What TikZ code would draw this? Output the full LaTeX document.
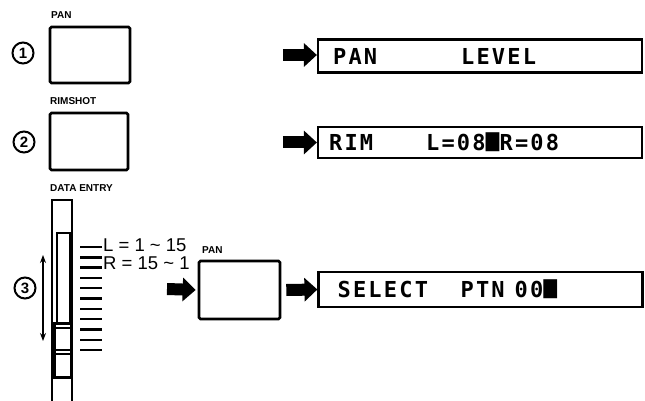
\documentclass[tikz,border=0pt]{standalone}
\usepackage{fontspec}
\usepackage{graphicx}
\setmainfont{Liberation Sans}
\newfontfamily\lcdfont[LetterSpace=10]{DejaVu Sans Mono}
\newcommand{\lcdblock}{\scalebox{1.05}[1.45]{■}}
\usetikzlibrary{arrows.meta}
\begin{document}
\begin{tikzpicture}[x=1pt,y=-1pt,
  btn/.style={draw, line width=2.6pt, rounded corners=1.5pt, inner sep=0pt},
  lcd/.style={draw, line width=2.2pt, inner sep=0pt, minimum width=324pt},
  lcdtext/.style={font=\lcdfont\bfseries\fontsize{22}{22}\selectfont, inner sep=0pt, anchor=west},
  lbl/.style={font=\bfseries\fontsize{10}{10}\selectfont, inner sep=0pt, anchor=west},
  num/.style={draw, circle, line width=2pt, minimum size=21pt, inner sep=0pt, font=\bfseries\fontsize{15}{15}\selectfont},
  blk/.style={line width=12pt, -{Triangle[length=13pt,width=23pt]}},
  tickline/.style={line width=2.4pt},
  rangetext/.style={font=\fontsize{18.5}{18.5}\selectfont, inner sep=0pt, anchor=west}
]
\useasboundingbox (0,0) rectangle (645,401);

% row 1
\node[lbl] (pan1) at (51,15) {PAN};
\node[num] (c1) at (23,53) {1};
\node[btn, minimum width=80pt, minimum height=56pt] (b1) at (90,55) {};
\node[lcd, minimum height=33pt] (l1) at (480,56) {};
\node[lcdtext] (t1) at ([xshift=16pt]l1.west) {\makebox[128pt][l]{PAN}LEVEL};
\coordinate (a1) at ([xshift=-34pt,yshift=1pt]l1.west);
\draw[blk] (a1) -- ([yshift=1pt]l1.west);

% row 2
\node[lbl] (rim) at (50,101) {RIMSHOT};
\node[num] (c2) at (24,142) {2};
\node[btn, minimum width=78pt, minimum height=57pt] (b2) at (89,141.5) {};
\node[lcd, minimum height=31pt] (l2) at (480,142.5) {};
\node[lcdtext] (t2) at ([xshift=12pt]l2.west) {\makebox[97pt][l]{RIM}L=08\lcdblock R=08};
\coordinate (a2) at ([xshift=-34pt]l2.west);
\draw[blk] (a2) -- (l2.west);

% row 3
\node[lbl] (de) at (50,188) {DATA ENTRY};
\node[num] (c3) at (25,288) {3};

% slider
\draw[line width=2.4pt] (52,402) -- (52,200) -- (72,200) -- (72,402);
\draw[line width=1.6pt] (57,322) -- (57,233) -- (70,233) -- (70,322);
\draw[line width=3pt] (54,323) rectangle (71,377);
\draw[line width=1.3pt] (54,328) -- (71,328) (54,350) -- (71,350) (54,354) -- (71,354);
\foreach \i in {0,...,10} {
  \draw[tickline] (80,{247+10.3*\i}) -- (102,{247+10.3*\i});
}
\coordinate (up) at (43,255);
\coordinate (dn) at (43,341);
\draw[line width=1.3pt, {Stealth[length=8pt,width=6pt]}-{Stealth[length=8pt,width=6pt]}] (up) -- (dn);

\node[rangetext] (lr) at (103,245) {L = 1 \textasciitilde{} 15};
\node[rangetext] (rr) at (103,263) {R = 15 \textasciitilde{} 1};

\node[lbl] (pan3) at (202,250) {PAN};
\node[btn, minimum width=81pt, minimum height=58pt] (b3) at (239.5,290) {};
\node[lcd, minimum height=35pt] (l3) at (480.5,289.5) {};
\node[lcdtext] (t3) at ([xshift=20pt]l3.west) {\makebox[123pt][l]{SELECT}\makebox[54pt][l]{PTN}00\lcdblock};
\coordinate (a3) at (167,289);
\draw[blk, shorten >=2pt] (a3) -- (b3.west);
\draw[blk] ([xshift=5pt]b3.east) -- (l3.west);
\end{tikzpicture}
\end{document}
